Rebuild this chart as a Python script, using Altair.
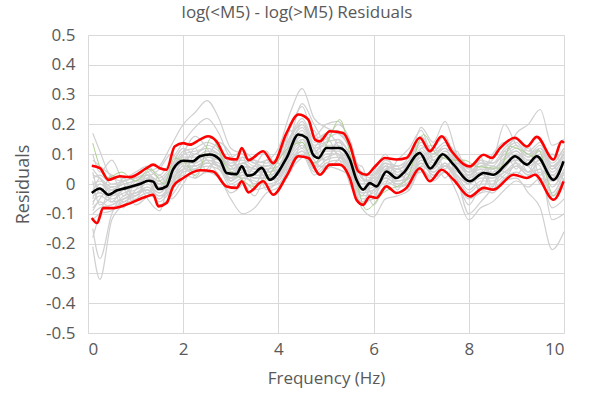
import altair as alt
import pandas as pd

# Common frequency grid for the individual residual curves (Hz)
grid_freq = [0.1] + [0.25 * i for i in range(1, 41)]

# Individual event residual curves
gray_curves = [
    [0.17,0.11,0.02,0.01,0.03,0.05,0.02,0.06,0.12,0.10,0.13,0.11,0.06,0.07,0.05,0.06,0.08,0.15,0.21,0.14,0.15,0.17,0.12,0.03,0.02,0.07,0.05,0.08,0.15,0.10,0.13,0.09,0.04,0.07,0.06,0.11,0.14,0.10,0.13,0.07,0.12],
    [-0.21,-0.32,-0.12,-0.07,-0.05,-0.03,-0.06,-0.02,0.04,0.05,0.07,0.06,0.01,0.03,0.00,0.01,0.02,0.09,0.13,0.07,0.09,0.10,0.05,-0.05,-0.04,0.01,-0.01,0.01,0.07,0.03,0.06,0.02,-0.03,0.00,0.00,0.03,0.06,0.03,0.05,-0.03,0.04],
    [-0.05,0.00,-0.02,0.01,0.02,0.04,0.06,0.13,0.20,0.24,0.28,0.22,0.12,0.10,0.07,0.06,0.08,0.16,0.20,0.13,0.14,0.15,0.10,0.01,0.02,0.06,0.04,0.06,0.12,0.08,0.11,0.07,0.03,0.05,0.05,0.08,0.11,0.08,0.10,0.04,0.09],
    [0.02,0.03,0.00,0.01,0.02,0.03,0.01,0.05,0.10,0.11,0.12,0.10,0.06,0.09,0.07,0.08,0.12,0.24,0.32,0.22,0.19,0.17,0.13,0.04,0.03,0.08,0.06,0.09,0.16,0.11,0.14,0.10,0.05,0.08,0.07,0.12,0.15,0.11,0.14,0.06,0.10],
    [-0.08,-0.06,-0.08,-0.06,-0.04,-0.02,-0.05,-0.01,0.05,0.05,0.07,0.06,0.00,0.02,0.01,0.00,0.01,0.08,0.12,0.05,0.08,0.09,0.05,-0.04,-0.03,0.02,0.00,0.02,0.08,0.05,0.10,0.02,-0.10,-0.06,-0.01,0.09,0.17,0.20,0.25,0.13,0.15],
    [-0.12,-0.10,-0.09,-0.05,-0.03,-0.02,-0.04,0.00,0.06,0.06,0.08,0.07,0.02,0.04,0.02,0.02,0.03,0.10,0.14,0.07,0.10,0.10,0.06,-0.03,-0.02,0.02,0.00,0.02,0.07,0.03,0.06,0.01,-0.04,-0.02,-0.03,0.01,0.02,-0.03,-0.08,-0.22,-0.16],
    [-0.06,-0.04,-0.06,-0.05,-0.03,-0.01,-0.04,-0.02,0.03,0.02,0.04,0.02,-0.05,-0.10,-0.08,-0.03,-0.01,0.07,0.11,0.04,0.07,0.08,0.04,-0.08,-0.11,-0.05,-0.04,-0.02,0.05,0.01,0.04,0.00,-0.05,-0.03,-0.02,0.02,0.04,0.02,0.04,-0.04,0.02],
    [0.00,0.01,-0.01,0.00,0.01,0.02,0.00,0.02,0.05,0.06,0.07,0.06,0.02,0.03,0.02,0.02,0.03,0.08,0.11,0.06,0.06,0.05,0.03,0.00,0.00,0.00,0.01,0.02,0.06,0.04,0.06,0.03,0.00,0.02,0.02,0.04,0.06,0.04,0.05,0.01,0.04],
    [0.08,0.06,0.03,0.02,0.04,0.06,0.03,0.08,0.14,0.19,0.22,0.17,0.09,0.11,0.08,0.07,0.09,0.19,0.26,0.16,0.20,0.21,0.14,0.02,0.01,0.06,0.05,0.07,0.13,0.09,0.12,0.08,0.03,0.06,0.05,0.09,0.12,0.09,0.11,0.05,0.10],
    [-0.15,-0.25,-0.10,-0.04,-0.03,-0.02,-0.05,0.00,0.04,0.05,0.06,0.05,-0.01,0.01,-0.02,-0.01,0.00,0.06,0.10,0.03,0.06,0.07,0.02,-0.06,-0.05,-0.01,-0.03,-0.01,0.05,0.02,0.04,-0.03,-0.12,-0.08,-0.06,-0.02,0.01,-0.01,0.02,-0.08,-0.05],
    [-0.02,0.00,-0.03,-0.01,0.00,0.02,-0.01,0.04,0.09,0.09,0.11,0.10,0.05,0.07,0.05,0.05,0.06,0.13,0.18,0.11,0.13,0.13,0.09,0.00,0.01,0.05,0.03,0.05,0.11,0.07,0.10,0.06,0.02,0.04,0.04,0.07,0.10,0.07,0.09,0.03,0.08],
    [-0.04,-0.03,-0.05,-0.03,-0.02,0.00,-0.03,0.02,0.07,0.07,0.09,0.08,0.03,0.05,0.03,0.03,0.04,0.11,0.15,0.09,0.11,0.11,0.07,-0.02,-0.01,0.03,0.01,0.03,0.09,0.05,0.09,0.05,0.00,0.03,0.02,0.06,0.08,0.06,0.08,0.01,0.07],
    [0.05,0.02,-0.02,0.00,0.01,0.03,0.00,0.04,0.08,0.10,0.12,0.10,0.05,0.06,0.05,0.04,0.06,0.14,0.19,0.12,0.14,0.20,0.15,0.02,0.00,0.06,0.05,0.08,0.19,0.14,0.21,0.10,0.04,0.06,0.08,0.20,0.13,0.09,0.12,0.05,0.11],
    [-0.10,-0.08,-0.07,-0.05,-0.04,-0.01,-0.03,0.01,0.06,0.06,0.08,0.06,0.01,0.04,0.02,0.02,0.02,0.09,0.13,0.06,0.10,0.10,0.06,-0.03,-0.02,0.03,0.01,0.02,0.08,0.04,0.07,0.03,-0.02,0.01,0.01,0.04,0.07,0.04,0.07,-0.01,0.05],
    [-0.07,-0.02,-0.04,-0.02,-0.01,0.01,-0.02,0.03,0.08,0.08,0.10,0.08,0.04,0.06,0.04,0.04,0.05,0.12,0.16,0.10,0.12,0.12,0.08,-0.01,0.00,0.04,0.02,0.04,0.10,0.06,0.09,0.05,0.01,0.04,0.03,0.06,0.09,0.06,0.08,0.02,0.08],
    [0.03,0.02,-0.01,0.00,0.01,0.03,0.01,0.05,0.11,0.12,0.14,0.12,0.07,0.08,0.06,0.06,0.08,0.16,0.22,0.15,0.17,0.18,0.12,0.03,0.03,0.07,0.06,0.08,0.14,0.10,0.12,0.08,0.04,0.07,0.07,0.10,0.13,0.10,0.12,0.06,0.10],
    [0.04,-0.03,0.03,-0.04,0.02,-0.03,0.03,-0.02,0.05,0.12,0.04,0.10,0.01,0.09,-0.01,0.08,0.03,0.18,0.12,0.18,0.06,0.15,0.07,0.06,-0.05,0.05,0.06,-0.02,0.12,0.13,0.05,0.11,0.02,0.09,-0.01,0.11,0.05,0.13,0.03,0.06,0.01],
    [-0.09,-0.05,-0.01,-0.06,-0.02,0.03,-0.07,-0.04,0.02,0.10,0.08,0.03,-0.03,0.00,0.06,0.02,0.05,0.10,0.17,0.10,0.16,0.09,0.02,-0.07,0.03,0.07,-0.02,0.06,0.09,0.02,0.07,0.01,-0.07,0.00,0.06,0.04,0.03,0.08,0.06,-0.12,-0.10],
    [0.10,0.04,0.08,0.00,-0.04,0.02,0.05,0.10,0.06,0.03,0.09,0.14,0.10,0.02,0.06,0.11,0.04,0.13,0.20,0.12,0.08,0.14,0.10,-0.02,0.04,0.10,0.03,0.07,0.09,0.12,0.16,0.06,0.00,0.08,0.03,0.05,0.10,0.04,0.12,0.08,0.12],
    [-0.18,-0.10,-0.02,-0.08,0.01,-0.05,-0.09,0.05,0.12,0.02,0.05,0.09,0.06,0.01,-0.04,0.04,0.07,0.04,0.15,0.08,0.05,0.08,0.11,0.03,-0.07,0.00,0.05,0.03,0.04,0.08,0.02,0.07,0.06,-0.03,0.05,0.02,0.08,0.12,0.00,0.03,-0.02],
    [0.01,-0.07,-0.04,0.02,-0.06,0.04,-0.02,0.00,0.10,0.16,0.12,0.05,0.02,0.07,0.08,-0.02,0.02,0.15,0.27,0.20,0.13,0.10,0.04,-0.04,0.02,0.02,0.08,0.12,0.18,0.08,0.06,0.09,0.06,0.03,0.10,0.14,0.07,0.03,0.09,0.10,0.06],
    [-0.03,0.02,-0.06,-0.02,-0.07,-0.04,0.01,-0.05,0.00,0.07,0.10,0.06,0.08,0.04,0.00,0.05,0.00,0.05,0.09,0.12,0.17,0.13,0.00,-0.06,-0.02,0.06,-0.01,0.00,0.06,0.10,0.12,0.04,0.03,0.05,-0.02,0.08,0.11,0.06,0.02,0.01,0.03],
]

# Green highlighted curve
green_freq = [0.1,0.4,0.7,1.0,1.3,1.6,1.82,2.05,2.28,2.59,2.9,3.2,3.47,3.7,4.2,4.5,4.75,5.0,5.29,5.55,5.85,6.2,6.69,7.05,7.33,7.68,7.9,8.17,8.66,8.87,9.08,9.36,9.46,9.78,10.0]
green_vals = [0.137,0.02,0.04,0.01,0.05,0.0,0.087,0.07,0.026,0.155,0.06,0.02,-0.008,0.01,0.12,0.14,0.07,0.13,0.216,0.07,-0.086,-0.03,0.014,0.166,0.098,0.08,0.08,0.059,0.053,0.126,0.115,0.093,0.115,-0.04,0.014]

# Mean residual
mean_freq = [0.08,0.25,0.43,0.6,0.81,1.09,1.27,1.37,1.48,1.65,1.79,2.0,2.2,2.35,2.56,2.77,2.91,3.12,3.23,3.35,3.45,3.65,3.82,4.17,4.42,4.59,4.73,4.84,5.01,5.29,5.5,5.64,5.78,5.92,6.06,6.27,6.48,6.62,6.97,7.19,7.45,7.68,8.02,8.31,8.52,8.8,8.97,9.22,9.43,9.78,9.99]
mean_vals = [-0.03,-0.015,-0.036,-0.022,-0.013,0.0,0.011,0.008,-0.017,-0.008,0.05,0.078,0.076,0.093,0.099,0.082,0.037,0.033,0.059,0.028,0.03,0.054,0.014,0.087,0.166,0.155,0.098,0.087,0.121,0.121,0.082,0.014,-0.019,0.003,-0.008,0.042,0.02,0.036,0.104,0.052,0.1,0.065,0.009,0.037,0.031,0.07,0.093,0.065,0.093,0.014,0.076]

# Mean + one standard deviation
upper_freq = [0.08,0.25,0.43,0.67,0.88,1.23,1.37,1.51,1.65,1.82,2.0,2.14,2.35,2.52,2.7,2.91,3.12,3.23,3.37,3.68,3.89,4.17,4.42,4.63,4.77,4.87,5.08,5.36,5.5,5.68,5.85,6.03,6.24,6.48,6.69,6.97,7.18,7.43,7.64,8.02,8.31,8.48,8.66,8.97,9.22,9.43,9.78,9.95,10.0]
upper_vals = [0.061,0.053,0.014,0.026,0.023,0.053,0.065,0.053,0.048,0.126,0.137,0.132,0.149,0.16,0.143,0.087,0.082,0.121,0.08,0.11,0.07,0.171,0.233,0.216,0.149,0.143,0.177,0.171,0.132,0.042,0.031,0.059,0.087,0.082,0.087,0.155,0.11,0.16,0.11,0.059,0.098,0.087,0.121,0.155,0.126,0.158,0.082,0.143,0.138]

# Mean - one standard deviation
lower_freq = [0.08,0.19,0.32,0.53,0.81,1.23,1.37,1.48,1.65,1.79,2.0,2.35,2.63,2.91,3.12,3.23,3.37,3.68,3.89,4.17,4.42,4.63,4.87,5.08,5.29,5.5,5.64,5.78,5.92,6.06,6.27,6.48,6.69,6.97,7.18,7.43,7.68,8.02,8.31,8.52,8.94,9.22,9.39,9.78,9.99]
lower_vals = [-0.114,-0.131,-0.081,-0.081,-0.069,-0.042,-0.036,-0.075,-0.064,-0.008,0.02,0.046,0.042,-0.008,-0.013,0.009,-0.028,0.009,-0.036,0.026,0.093,0.087,0.031,0.065,0.065,0.02,-0.053,-0.07,-0.042,-0.047,-0.008,-0.03,-0.013,0.053,0.009,0.048,0.014,-0.042,-0.013,-0.019,0.031,0.02,0.031,-0.053,0.009]

y_ticks = [-0.5, -0.4, -0.3, -0.2, -0.1, 0, 0.1, 0.2, 0.3, 0.4, 0.5]
x_ticks = [0, 2, 4, 6, 8, 10]

gray_df = pd.DataFrame(
    [
        {"event": i, "freq": f, "res": v}
        for i, curve in enumerate(gray_curves)
        for f, v in zip(grid_freq, curve)
    ]
)
green_df = pd.DataFrame({"freq": green_freq, "res": green_vals})
mean_df = pd.DataFrame({"freq": mean_freq, "res": mean_vals})
upper_df = pd.DataFrame({"freq": upper_freq, "res": upper_vals})
lower_df = pd.DataFrame({"freq": lower_freq, "res": lower_vals})

FONT = "Open Sans"
TEXT = "#595959"
GRID = "#d9d9d9"

x_axis = alt.Axis(
    values=x_ticks,
    title="Frequency (Hz)",
    titlePadding=13,
    labelPadding=8,
    labelFontSize=17,
    titleFontSize=17,
)
y_axis = alt.Axis(
    values=y_ticks,
    labelExpr="datum.value < 0 ? '-' + format(-datum.value, '.1~f') : format(datum.value, '.1~f')",
    labelOverlap=False,
    title="Residuals",
    titlePadding=13,
    labelPadding=13,
    labelFontSize=17,
    titleFontSize=18,
)


def enc_x():
    return alt.X("freq:Q", scale=alt.Scale(domain=[0, 10], nice=False), axis=x_axis)


def enc_y():
    return alt.Y("res:Q", scale=alt.Scale(domain=[-0.5, 0.5], nice=False), axis=y_axis)


def curve(df, color, width):
    return (
        alt.Chart(df)
        .mark_line(color=color, strokeWidth=width, interpolate="monotone")
        .encode(x=enc_x(), y=enc_y())
    )


gray = (
    alt.Chart(gray_df)
    .mark_line(color="#d0d0d0", strokeWidth=1.2, interpolate="monotone")
    .encode(x=enc_x(), y=enc_y(), detail="event:N")
)
green = curve(green_df, "#a9d18e", 1)
upper = curve(upper_df, "#ff0000", 2.6)
lower = curve(lower_df, "#ff0000", 2.6)
mean = curve(mean_df, "#000000", 2.6)

chart = (
    alt.layer(gray, green, upper, lower, mean)
    .properties(
        width=476,
        height=298,
        title=alt.TitleParams(
            "log(<M5) - log(>M5) Residuals",
            font=FONT,
            fontSize=17,
            fontWeight="normal",
            color=TEXT,
            offset=4,
            dx=-29,
        ),
        autosize=alt.AutoSizeParams(type="none"),
        padding={"left": 88, "top": 35, "right": 29, "bottom": 61},
    )
    .configure_view(stroke=None)
    .configure_axis(
        labelFont=FONT,
        titleFont=FONT,
        titleFontWeight="normal",
        labelColor=TEXT,
        titleColor=TEXT,
        gridColor=GRID,
        gridWidth=1,
        domain=False,
        ticks=False,
    )
    .configure_axisX(domain=True, domainColor=GRID)
)

chart.save("out.html", embed_options={"renderer": "svg", "actions": False})
